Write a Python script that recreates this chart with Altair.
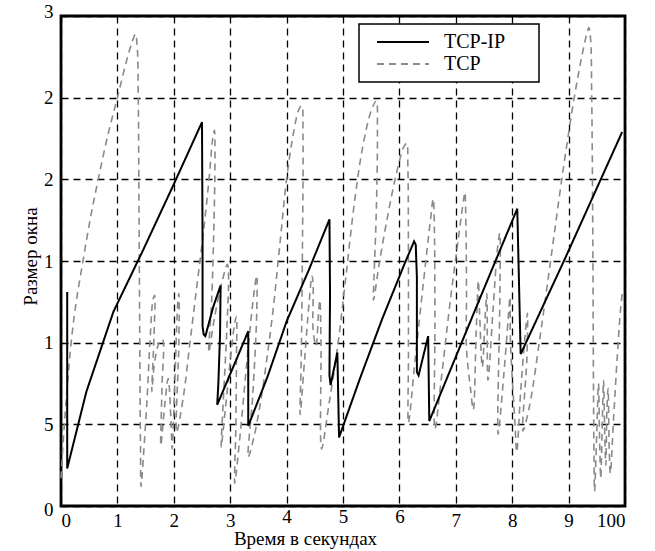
import altair as alt
import pandas as pd

# ---- data -------------------------------------------------------------
series_names = ["TCP-IP", "TCP"]

# TCP-IP congestion window (time, window)
tcpip_t = [0.11, 0.11, 0.45, 0.93, 1.46, 2.00, 2.50, 2.51, 2.51, 2.53,
           2.56, 2.70, 2.83, 2.82, 2.79, 2.77, 3.04, 3.32, 3.32, 3.66,
           4.00, 4.40, 4.76, 4.77, 4.76, 4.78, 4.90, 4.93, 5.30, 5.70,
           6.10, 6.26, 6.29, 6.31, 6.31, 6.34, 6.51, 6.53, 7.39, 8.09,
           8.15, 8.93, 9.95]
tcpip_w = [1.31, 0.23, 0.70, 1.19, 1.57, 1.97, 2.35, 1.60, 1.10, 1.05,
           1.04, 1.22, 1.35, 1.05, 0.75, 0.62, 0.84, 1.07, 0.49, 0.79,
           1.13, 1.45, 1.755, 1.30, 0.80, 0.74, 0.94, 0.42, 0.78, 1.15,
           1.49, 1.62, 1.60, 1.40, 0.82, 0.80, 1.04, 0.52, 1.24, 1.82,
           0.93, 1.51, 2.29]

# plain TCP congestion window (time, window)
tcp_t = [0.00, 0.06, 0.18, 0.27, 0.39, 0.52, 0.66, 0.83, 1.00, 1.15,
         1.26, 1.32, 1.35, 1.37, 1.38, 1.39, 1.40, 1.41, 1.42,
         1.46, 1.52, 1.58, 1.63, 1.66, 1.65, 1.61, 1.66, 1.74, 1.80,
         1.79, 1.77, 1.84, 1.90, 1.95, 1.97, 2.02, 2.07, 2.09, 2.09,
         2.05, 2.17, 2.29, 2.41, 2.53, 2.63, 2.69, 2.72, 2.73, 2.71,
         2.67, 2.62,
         2.72, 2.86, 2.95, 2.97, 2.94, 2.88, 2.84, 2.91, 3.01, 3.08,
         3.11, 3.11, 3.10, 3.08, 3.18, 3.30, 3.42, 3.47, 3.47, 3.40,
         3.32, 3.42, 3.53, 3.65, 3.76, 3.88, 4.00, 4.12, 4.22, 4.27,
         4.29, 4.28, 4.26, 4.24, 4.32, 4.40, 4.45, 4.47, 4.47, 4.52,
         4.57, 4.59, 4.61, 4.62, 4.75, 4.91, 5.05, 5.20, 5.35, 5.50,
         5.59, 5.61, 5.59, 5.55, 5.54, 5.65, 5.80, 5.95, 6.08, 6.13,
         6.15, 6.16, 6.16, 6.16, 6.28, 6.42, 6.55, 6.60, 6.62, 6.63,
         6.63, 6.75, 6.90, 7.05, 7.14, 7.16,
         7.18, 7.19, 7.19, 7.26, 7.31, 7.36, 7.40, 7.42, 7.47, 7.52,
         7.55, 7.57, 7.66, 7.74, 7.78, 7.78, 7.75, 7.85, 7.93, 7.96,
         7.97, 8.05, 8.08, 8.15, 8.23, 8.27, 8.26, 8.19, 8.30, 8.50,
         8.70, 8.90, 9.10, 9.25, 9.33, 9.36, 9.39, 9.41, 9.43, 9.44,
         9.45, 9.46,
         9.50, 9.53, 9.55, 9.57, 9.60, 9.62, 9.64, 9.66, 9.68, 9.70,
         9.72, 9.74, 9.80, 9.86, 9.92, 9.95]
tcp_w = [0.17, 0.50, 1.00, 1.25, 1.50, 1.76, 2.00, 2.27, 2.50, 2.71,
         2.84, 2.89, 2.82, 2.50, 2.00, 1.40, 0.80, 0.35, 0.12,
         0.30, 0.62, 1.02, 1.26, 1.29, 1.05, 0.70, 0.88, 1.00, 1.02,
         0.72, 0.37, 0.62, 0.78, 0.52, 0.35, 0.78, 1.24, 1.30, 1.00,
         0.45, 0.67, 1.01, 1.35, 1.69, 2.02, 2.25, 2.30, 2.12, 1.70,
         1.25, 0.94,
         1.15, 1.38, 1.48, 1.42, 1.08, 0.66, 0.36, 0.58, 0.92, 1.12,
         1.16, 0.88, 0.48, 0.14, 0.45, 0.90, 1.30, 1.41, 1.18, 0.68,
         0.30, 0.42, 0.62, 0.90, 1.20, 1.60, 2.00, 2.28, 2.43, 2.45,
         2.28, 1.55, 0.92, 0.56, 0.90, 1.25, 1.41, 1.36, 1.08, 0.98,
         1.20, 1.26, 1.00, 0.35, 0.62, 0.99, 1.40, 1.85, 2.20, 2.42,
         2.48, 2.30, 1.80, 1.40, 1.26, 1.50, 1.79, 2.04, 2.20, 2.22,
         2.08, 1.50, 0.90, 0.51, 0.90, 1.35, 1.75, 1.88, 1.70, 1.10,
         0.47, 0.80, 1.25, 1.65, 1.88, 1.92,
         1.70, 1.30, 0.96, 0.72, 0.59, 1.05, 1.38, 1.20, 0.85, 1.15,
         1.30, 0.77, 1.20, 1.58, 1.67, 1.25, 0.44, 0.80, 1.15, 1.28,
         1.00, 0.50, 0.33, 0.70, 1.05, 1.18, 0.90, 0.46, 0.60, 1.05,
         1.55, 2.05, 2.50, 2.78, 2.90, 2.93, 2.86, 2.50, 1.60, 0.80,
         0.30, 0.09,
         0.45, 0.75, 0.40, 0.17, 0.55, 0.77, 0.45, 0.25, 0.60, 0.72,
         0.35, 0.20, 0.55, 0.90, 1.20, 1.30]

# axis ticks and their printed labels
x_ticks = list(range(0, 11))
x_tick_labels = ["0", "1", "2", "3", "4", "5", "6", "7", "8", "9", "100"]
y_ticks = [0, 0.5, 1, 1.5, 2, 2.5, 3]
y_tick_labels = ["0", "5", "1", "1", "2", "2", "3"]

# ---- tables -----------------------------------------------------------
df_ip = pd.DataFrame({"t": tcpip_t, "w": tcpip_w, "series": "TCP-IP",
                      "idx": range(len(tcpip_t))})
df_tcp = pd.DataFrame({"t": tcp_t, "w": tcp_w, "series": "TCP",
                       "idx": range(len(tcp_t))})

FONT = "Liberation Serif"


def label_array(labels):
    return "[" + ",".join("'%s'" % s for s in labels) + "]"


x_expr = label_array(x_tick_labels) + "[round(datum.value)]"
y_expr = label_array(y_tick_labels) + "[round(datum.value*2)]"

grid_style = dict(grid=True, gridColor="black", gridDash=[7, 5], gridWidth=1.3,
                  gridOpacity=1, ticks=False, domain=False,
                  labelFont=FONT, labelFontSize=19, labelColor="black",
                  titleFont=FONT, titleFontSize=19, titleFontWeight="normal",
                  titleColor="black")

# middle x labels sit a little higher, above the axis title
x_label_pad = {"condition": {"test": "datum.value >= 4 && datum.value <= 6", "value": 1},
               "value": 5}
# end labels of the y axis are pushed slightly outwards
y_label_off = {"condition": [{"test": "datum.value == 3", "value": -5},
                             {"test": "datum.value == 0", "value": 3}],
               "value": 0}

x_enc = alt.X("t:Q", scale=alt.Scale(domain=[0, 10], nice=False, zero=False),
              axis=alt.Axis(values=x_ticks, labelExpr=x_expr,
                            title="Время в секундах", labelPadding=x_label_pad,
                            titleX=244, titleY=38, titleAlign="center",
                            titleBaseline="alphabetic", **grid_style))
y_enc = alt.Y("w:Q", scale=alt.Scale(domain=[0, 3], nice=False),
              axis=alt.Axis(values=y_ticks, labelExpr=y_expr,
                            title="Размер окна", labelPadding=8,
                            labelOffset=y_label_off,
                            titleX=-31, titleY=240, titleAngle=270,
                            titleAlign="center", titleBaseline="middle",
                            **grid_style))

# legend symbol: a 52 px stroke; the trailing move-to widens the legend frame
legend = alt.Legend(title=None, orient="none", legendX=298, legendY=8,
                    fillColor="white", strokeColor="black",
                    padding=8,
                    labelFont=FONT, labelFontSize=20, labelColor="black",
                    labelOffset=57, rowPadding=2,
                    symbolType="M0,0L10.4,0M30,0", symbolSize=100,
                    symbolStrokeWidth=1.8)

color_enc = alt.Color("series:N",
                      scale=alt.Scale(domain=series_names, range=["black", "#8a8a8a"]),
                      legend=legend)
dash_enc = alt.StrokeDash("series:N",
                          scale=alt.Scale(domain=series_names, range=[[1, 0], [7, 5]]),
                          legend=legend)

tcp_line = alt.Chart(df_tcp).mark_line(strokeWidth=1.6, interpolate="catmull-rom").encode(
    x=x_enc, y=y_enc, color=color_enc, strokeDash=dash_enc, order="idx:Q")
ip_line = alt.Chart(df_ip).mark_line(strokeWidth=2.0).encode(
    x=x_enc, y=y_enc, color=color_enc, strokeDash=dash_enc, order="idx:Q")

chart = alt.layer(tcp_line, ip_line).properties(
    width=564, height=490,
    autosize=alt.AutoSizeParams(type="none"),
    padding={"left": 61, "top": 16, "right": 30, "bottom": 45},
    background="white",
).configure_view(stroke="black", strokeWidth=2.8).configure_legend(strokeWidth=1.5)

chart.save("out.html", embed_options={"renderer": "svg", "actions": False})
